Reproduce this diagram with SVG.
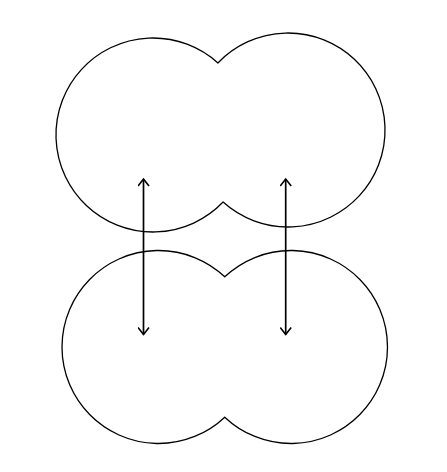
<svg xmlns="http://www.w3.org/2000/svg" width="447" height="472" viewBox="0 0 447 472">
<style>
.shape{fill:none;stroke:#000;stroke-width:1.3}
.conn{fill:none;stroke:#000;stroke-width:1.7}
</style>
<defs>
<marker id="ah" viewBox="0 0 12 12" refX="10" refY="6" markerWidth="12" markerHeight="12" markerUnits="userSpaceOnUse" orient="auto-start-reverse">
<path d="M3,0.5 L10,6 L3,11.5" fill="none" stroke="#000" stroke-width="1.6"/>
</marker>
</defs>
<rect width="447" height="472" fill="#fff"/>
<g id="top-shape">
<path class="shape" d="M217.92,62.95 A97,97 0 1 0 223.08,202.05 A97,97 0 1 0 217.92,62.95 Z"/>
</g>
<g id="bottom-shape">
<path class="shape" d="M224.75,276.83 A96.5,96.5 0 1 0 224.75,417.17 A96.5,96.5 0 1 0 224.75,276.83 Z"/>
</g>
<g id="connectors">
<line class="conn" x1="143.5" y1="179" x2="143.5" y2="334.5" marker-start="url(#ah)" marker-end="url(#ah)"/>
<line class="conn" x1="285.7" y1="179" x2="285.7" y2="334.5" marker-start="url(#ah)" marker-end="url(#ah)"/>
</g>
</svg>
